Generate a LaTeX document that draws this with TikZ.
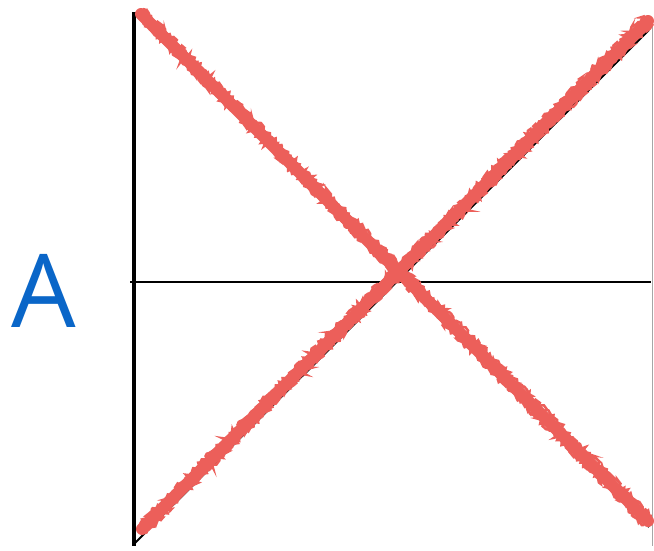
\documentclass[tikz,border=0pt]{standalone}
\usepackage{fontspec}
\newfontfamily\handfont{Open Sans}
\usetikzlibrary{decorations.pathmorphing,calc}
\definecolor{chalkred}{RGB}{236,95,90}
\definecolor{penblue}{RGB}{10,102,200}
\tikzset{
  axis/.style={black, line width=4.5},
  hline/.style={black, line width=2.5},
  edgeline/.style={gray!70, line width=1},
  guide/.style={black, line width=2},
  chalk/.style={chalkred, line width=12, line cap=round},
  chalkfuzz/.style={chalkred, line width=2.5, decorate, decoration={random steps, segment length=2, amplitude=2.2}},
  letter/.style={text=penblue, font=\handfont\fontsize{102}{102}\selectfont, inner sep=0}
}
\begin{document}
\begin{tikzpicture}[x=1pt,y=-1pt]
\useasboundingbox[fill=white] (0,0) rectangle (654,550);
% coordinates
\coordinate (vtop) at (134,12);
\coordinate (vbot) at (134,546);
\coordinate (hl) at (130,282);
\coordinate (hr) at (651,282);
\coordinate (rt) at (652,25);
\coordinate (rb) at (652,546);
\coordinate (g1a) at (135,13);
\coordinate (g1b) at (649,527);
\coordinate (g2a) at (135,543);
\coordinate (g2b) at (649,30);
\coordinate (r1a) at (141,14);
\coordinate (r1b) at (648,521);
\coordinate (r2a) at (142,529);
\coordinate (r2b) at (648,21);
% frame
\draw[edgeline] (rt) -- (rb);
\draw[hline] (hl) -- (hr);
\draw[axis] (vtop) -- (vbot);
% black guides
\draw[guide] (g1a) -- (g1b);
\draw[guide] (g2a) -- (g2b);
% red chalk strokes
\draw[chalk] (r1a) -- (r1b);
\draw[chalk] (r2a) -- (r2b);
\draw[chalkfuzz] ($(r1a)+(2,-5)$) -- ($(r1b)+(4,-5)$);
\draw[chalkfuzz] ($(r1a)+(-2,4)$) -- ($(r1b)+(-4,4)$);
\draw[chalkfuzz] ($(r2a)+(-2,-5)$) -- ($(r2b)+(-3,-5)$);
\draw[chalkfuzz] ($(r2a)+(3,4)$) -- ($(r2b)+(4,4)$);
% letter
\node[letter] (lbl) at (44,291) {A};
\end{tikzpicture}
\end{document}
